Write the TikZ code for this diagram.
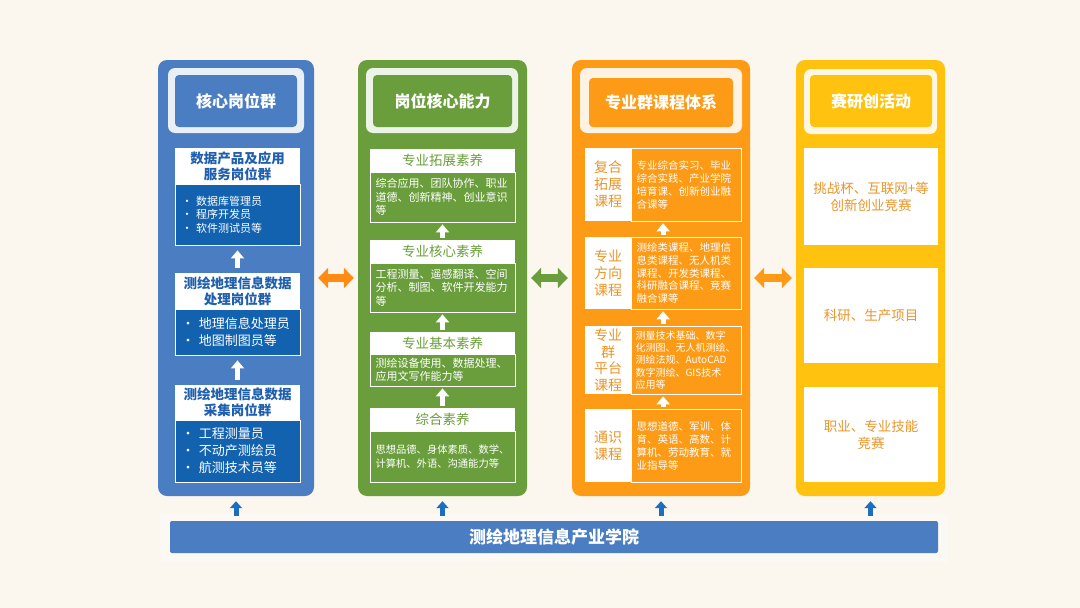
\documentclass[tikz,border=0pt]{standalone}
\usepackage{fontspec}
\setmainfont{Noto Sans CJK SC}
\usetikzlibrary{positioning,arrows.meta,calc}
\definecolor{bgcream}{HTML}{FBF6EE}
\definecolor{bluecol}{HTML}{4A7DC2}
\definecolor{bluedeep}{HTML}{1262B0}
\definecolor{bluetext}{HTML}{1F5FAD}
\definecolor{greencol}{HTML}{6A9E3C}
\definecolor{orangecol}{HTML}{FD9A16}
\definecolor{orangetext}{HTML}{E8962B}
\definecolor{yellowcol}{HTML}{FFC20E}
\definecolor{arrowblue}{HTML}{1C6EBF}
\tikzset{
  colbox/.style={rounded corners=9pt, minimum height=436pt, inner sep=0pt},
  titleframe/.style={rounded corners=7pt, fill=white, fill opacity=0.88, minimum height=65pt},
  titlebox/.style={rounded corners=4pt, minimum height=52pt, text=white,
    font=\fontsize{16}{19}\selectfont\bfseries},
  headbox/.style={fill=white, align=center, inner sep=0pt},
  bodybox/.style={draw=white, line width=0.8pt, text=white, align=left, inner sep=0pt},
  upflow/.style={white, line width=5pt, -{Triangle[width=13pt,length=8pt]},
    shorten <=2pt, shorten >=2pt},
  baseflow/.style={arrowblue, line width=5pt, -{Triangle[width=12pt,length=7pt]},
    shorten <=5pt, shorten >=5pt},
  linkflow/.style={line width=8pt, {Triangle[width=20pt,length=10pt]}-{Triangle[width=20pt,length=10pt]},
    shorten <=4pt, shorten >=4pt},
}

\begin{document}
\begin{tikzpicture}[x=1pt, y=-1pt]
  \fill[bgcream] (0,0) rectangle (1080,608);
  \useasboundingbox (0,0) rectangle (1080,608);
  % 核心岗位群
  \node[colbox, fill=bluecol, minimum width=156pt] (hexin) at (236,278) {};
  \node[titleframe, minimum width=136pt] (hexinF) at (236,100.5) {};
  \node[titlebox, fill=bluecol, minimum width=122pt] (hexinT) at (236,101) {核心岗位群};
  \node[headbox, minimum width=125pt, minimum height=36pt, text=bluetext,
    font=\fontsize{13.5}{16}\selectfont\bfseries] (hx1) at (237.5,166) {数据产品及应用\\服务岗位群};
  \node[bodybox, fill=bluedeep, minimum width=125pt, minimum height=61pt, text width=112pt,
    font=\fontsize{11}{13.5}\selectfont] (hx1b) at (237.5,214.5) {• 数据库管理员\\• 程序开发员\\• 软件测试员等};
  \node[headbox, minimum width=125pt, minimum height=36pt, text=bluetext,
    font=\fontsize{13.5}{16}\selectfont\bfseries] (hx2) at (237.5,291) {测绘地理信息数据\\处理岗位群};
  \node[bodybox, fill=bluedeep, minimum width=125pt, minimum height=46pt, text width=112pt,
    font=\fontsize{13}{17}\selectfont] (hx2b) at (237.5,332) {• 地理信息处理员\\• 地图制图员等};
  \node[headbox, minimum width=125pt, minimum height=35pt, text=bluetext,
    font=\fontsize{13.5}{16}\selectfont\bfseries] (hx3) at (237.5,402.5) {测绘地理信息数据\\采集岗位群};
  \node[bodybox, fill=bluedeep, minimum width=125pt, minimum height=62pt, text width=112pt,
    font=\fontsize{13}{17}\selectfont] (hx3b) at (237.5,451) {• 工程测量员\\• 不动产测绘员\\• 航测技术员等};
  \draw[upflow, shorten <=5pt, shorten >=5pt] (hx2.north) -- (hx1b.south);
  \draw[upflow, shorten <=5pt, shorten >=5pt] (hx3.north) -- (hx2b.south);
  % 岗位核心能力
  \node[colbox, fill=greencol, minimum width=169pt] (nengli) at (442.5,278) {};
  \node[titleframe, minimum width=152pt] (nengliF) at (442,100.5) {};
  \node[titlebox, fill=greencol, minimum width=139pt] (nengliT) at (442.5,101) {岗位核心能力};
  \node[headbox, minimum width=145pt, minimum height=23pt, text=greencol,
    font=\fontsize{13.5}{16}\selectfont] (nl1) at (442.5,160.5) {专业拓展素养};
  \node[bodybox, fill=greencol, minimum width=145pt, minimum height=50pt, text width=134pt,
    font=\fontsize{11}{13.5}\selectfont] (nl1b) at (442.5,197) {综合应用、团队协作、职业\\道德、创新精神、创业意识\\等};
  \node[headbox, minimum width=145pt, minimum height=23pt, text=greencol,
    font=\fontsize{13.5}{16}\selectfont] (nl2) at (442.5,251.5) {专业核心素养};
  \node[bodybox, fill=greencol, minimum width=145pt, minimum height=49pt, text width=134pt,
    font=\fontsize{11}{13.5}\selectfont] (nl2b) at (442.5,287.5) {工程测量、遥感翻译、空间\\分析、制图、软件开发能力\\等};
  \node[headbox, minimum width=145pt, minimum height=22pt, text=greencol,
    font=\fontsize{13.5}{16}\selectfont] (nl3) at (442.5,343) {专业基本素养};
  \node[bodybox, fill=greencol, minimum width=145pt, minimum height=32pt, text width=134pt,
    font=\fontsize{11}{13.5}\selectfont] (nl3b) at (442.5,370) {测绘设备使用、数据处理、\\应用文写作能力等};
  \node[headbox, minimum width=145pt, minimum height=23pt, text=greencol,
    font=\fontsize{13.5}{16}\selectfont] (nl4) at (442.5,419.5) {综合素养};
  \node[bodybox, fill=greencol, minimum width=145pt, minimum height=51pt, text width=134pt,
    font=\fontsize{10.3}{14}\selectfont] (nl4b) at (442.5,456.5) {思想品德、身体素质、数学、\\计算机、外语、沟通能力等};
  \draw[upflow] (nl2.north) -- (nl1b.south);
  \draw[upflow] (nl3.north) -- (nl2b.south);
  \draw[upflow] (nl4.north) -- (nl3b.south);
  % 专业群课程体系
  \node[colbox, fill=orangecol, minimum width=178pt] (kecheng) at (661,278) {};
  \node[titleframe, minimum width=162pt] (kechengF) at (661,100.5) {};
  \node[titlebox, fill=orangecol, minimum width=144pt, minimum height=49pt] (kechengT) at (661,102.5) {专业群课程体系};
  \node[headbox, minimum width=46pt, minimum height=73pt, text=orangetext,
    font=\fontsize{14}{17}\selectfont] (kc1) at (608,184.5) {复合\\拓展\\课程};
  \node[bodybox, fill=orangecol, minimum width=110pt, minimum height=73pt, text width=99pt,
    font=\fontsize{10.5}{13}\selectfont] (kc1b) at (686,184.5) {专业综合实习、毕业\\综合实践、产业学院\\培育课、创新创业融\\合课等};
  \node[headbox, minimum width=46pt, minimum height=72pt, text=orangetext,
    font=\fontsize{14}{17}\selectfont] (kc2) at (608,273) {专业\\方向\\课程};
  \node[bodybox, fill=orangecol, minimum width=110pt, minimum height=72pt, text width=99pt,
    font=\fontsize{10.5}{12.8}\selectfont] (kc2b) at (686,273) {测绘类课程、地理信\\息类课程、无人机类\\课程、开发类课程、\\科研融合课程、竞赛\\融合课等};
  \node[headbox, minimum width=46pt, minimum height=68pt, text=orangetext,
    font=\fontsize{14}{16.5}\selectfont] (kc3) at (608,360) {专业\\群\\平台\\课程};
  \node[bodybox, fill=orangecol, minimum width=110pt, minimum height=68pt, text width=101pt,
    font=\fontsize{10}{12.2}\selectfont] (kc3b) at (686,360) {测量技术基础、数字\\化测图、无人机测绘、\\测绘法规、AutoCAD\\数字测绘、GIS技术\\应用等};
  \node[headbox, minimum width=46pt, minimum height=73pt, text=orangetext,
    font=\fontsize{14}{17}\selectfont] (kc4) at (608,445.5) {通识\\课程};
  \node[bodybox, fill=orangecol, minimum width=110pt, minimum height=73pt, text width=99pt,
    font=\fontsize{10.5}{13}\selectfont] (kc4b) at (686,445.5) {思想道德、军训、体\\育、英语、高数、计\\算机、劳动教育、就\\业指导等};
  \draw[upflow] ($(kc2.north west)!0.5!(kc2b.north east)$) -- ($(kc1.south west)!0.5!(kc1b.south east)$);
  \draw[upflow] ($(kc3.north west)!0.5!(kc3b.north east)$) -- ($(kc2.south west)!0.5!(kc2b.south east)$);
  \draw[upflow] ($(kc4.north west)!0.5!(kc4b.north east)$) -- ($(kc3.south west)!0.5!(kc3b.south east)$);
  % 赛研创活动
  \node[colbox, fill=yellowcol, minimum width=149pt] (huodong) at (870.5,278) {};
  \node[titleframe, minimum width=133pt] (huodongF) at (870.5,101.5) {};
  \node[titlebox, fill=yellowcol, minimum width=122pt] (huodongT) at (871,101) {赛研创活动};
  \node[headbox, minimum width=134pt, minimum height=97pt, text=orangetext,
    font=\fontsize{13.5}{17}\selectfont] (hd1) at (871,196.5) {挑战杯、互联网+等\\创新创业竞赛};
  \node[headbox, minimum width=134pt, minimum height=95pt, text=orangetext,
    font=\fontsize{13.5}{17}\selectfont] (hd2) at (871,315.5) {科研、生产项目};
  \node[headbox, minimum width=134pt, minimum height=95pt, text=orangetext,
    font=\fontsize{13.5}{17}\selectfont] (hd3) at (871,434.5) {职业、专业技能\\竞赛};
  % 列间联系
  \draw[linkflow, color=orangecol!90!red] (hexin.east) -- (nengli.west);
  \draw[linkflow, color=greencol] (nengli.east) -- (kecheng.west);
  \draw[linkflow, color=orangecol] (kecheng.east) -- (huodong.west);
  % 产业学院
  \node[fill=white, fill opacity=0.4, minimum width=788pt, minimum height=48pt] (xueyuanBg) at (554,537.5) {};
  \node[fill=bluecol, rounded corners=2pt, minimum width=768pt, minimum height=32pt, text=white,
    font=\fontsize{17}{20}\selectfont\bfseries] (xueyuan) at (554,537) {测绘地理信息产业学院};
  \draw[baseflow] (xueyuan.north -| hexin.south) -- (hexin.south);
  \draw[baseflow] (xueyuan.north -| nengli.south) -- (nengli.south);
  \draw[baseflow] (xueyuan.north -| kecheng.south) -- (kecheng.south);
  \draw[baseflow] (xueyuan.north -| huodong.south) -- (huodong.south);
\end{tikzpicture}
\end{document}
